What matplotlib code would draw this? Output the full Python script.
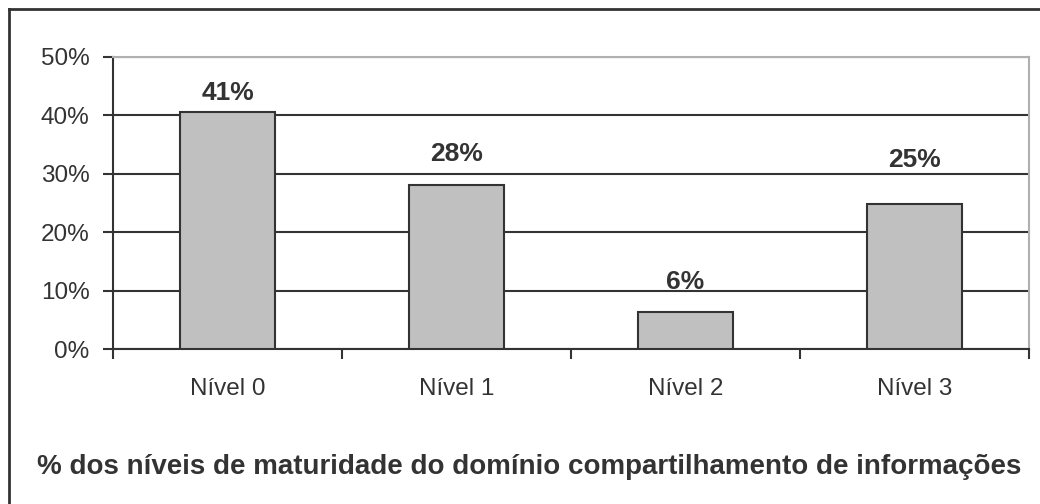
import numpy as np
import matplotlib
matplotlib.use('Agg')
from matplotlib import pyplot as plt
from matplotlib.lines import Line2D
from matplotlib.ticker import FixedLocator, PercentFormatter

niveis = ['Nível 0', 'Nível 1', 'Nível 2', 'Nível 3']
valores = [40.5, 28.1, 6.3, 24.8]
rotulos = ['41%', '28%', '6%', '25%']
titulo = '% dos níveis de maturidade do domínio compartilhamento de informações'

plt.rcParams['font.family'] = ['Liberation Sans', 'DejaVu Sans']
escuro = '#333333'

fig = plt.figure(figsize=(10.4, 5.04), dpi=100)
ax = fig.add_axes([0.1087, 0.3075, 0.8807, 0.58])

x = np.arange(len(niveis))
ax.set_axisbelow(True)
ax.yaxis.grid(True, color=escuro, linewidth=1.5)
ax.bar(x, valores, width=0.415, color='#c0c0c0', edgecolor=escuro, linewidth=1.5, zorder=3)

# deslocamento dos rotulos em pontos (como no original)
desloc = [14, 22, 22, 32]
for xi, v, r, d in zip(x, valores, rotulos, desloc):
    ax.annotate(r, (xi, v), xytext=(0, d), textcoords='offset points',
                ha='center', va='center', fontsize=19, fontweight='bold', color=escuro)

ax.set_xlim(-0.5, len(niveis) - 0.5)
ax.set_ylim(0, 50)
ax.yaxis.set_major_locator(FixedLocator(np.arange(0, 51, 10)))
ax.yaxis.set_major_formatter(PercentFormatter(decimals=0))
ax.set_xticks(x)
ax.set_xticklabels(niveis)
ax.xaxis.set_minor_locator(FixedLocator(np.arange(-0.5, len(niveis), 1)))
ax.tick_params(axis='x', which='major', length=0, pad=21, labelsize=17.5, labelcolor=escuro)
ax.tick_params(axis='x', which='minor', length=7, width=1.5, color=escuro, direction='out')
ax.tick_params(axis='y', length=7, width=1.5, color=escuro, labelsize=17.5, labelcolor=escuro, pad=10)

for s in ['left', 'bottom']:
    ax.spines[s].set_color(escuro)
    ax.spines[s].set_linewidth(1.5)
for s in ['top', 'right']:
    ax.spines[s].set_color('#b0b0b0')
    ax.spines[s].set_linewidth(1.5)

fig.text(0.509, 0.073, titulo, ha='center', va='center', fontsize=20,
         fontweight='bold', color=escuro)

# moldura do grafico
fig.add_artist(Line2D([9 / 1040, 9 / 1040], [0, 1 - 9 / 504], transform=fig.transFigure,
                      color=escuro, linewidth=2))
fig.add_artist(Line2D([9 / 1040, 1], [1 - 9 / 504, 1 - 9 / 504], transform=fig.transFigure,
                      color=escuro, linewidth=2))

fig.savefig('out.png', dpi=100)
